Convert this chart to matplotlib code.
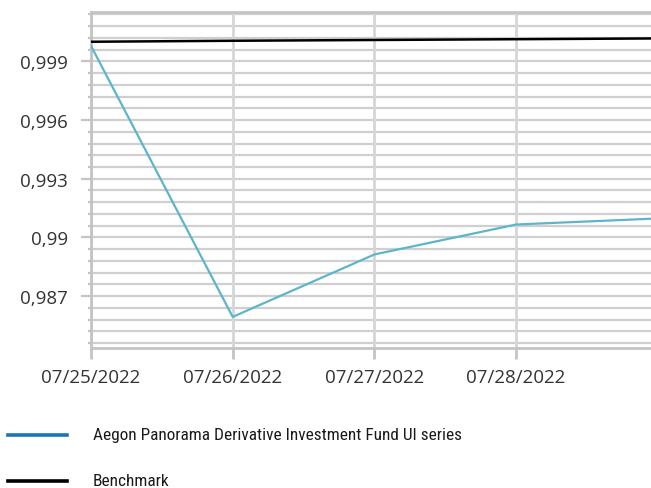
import matplotlib
matplotlib.use("Agg")
import matplotlib.pyplot as plt
from matplotlib.lines import Line2D
from matplotlib.ticker import FixedLocator, FuncFormatter

dates = ["07/25/2022", "07/26/2022", "07/27/2022", "07/28/2022", "07/29/2022"]
fund = [0.99979, 0.98594, 0.98913, 0.99066, 0.99097]
benchmark = [1.00000, 1.00005, 1.00009, 1.00013, 1.00017]
fund_label = "Aegon Panorama Derivative Investment Fund UI series"
bench_label = "Benchmark"

major_y = [0.987, 0.990, 0.993, 0.996, 0.999]
grid_y = [0.9846 + 0.0006 * k for k in range(30)]

W, H = 651, 489
fig = plt.figure(figsize=(W / 100, H / 100), dpi=100)
ax = fig.add_axes([91 / W, 1 - 349 / H, (W - 91) / W, (349 - 13) / H])

x = list(range(len(dates)))
ax.plot(x, benchmark, color="black", lw=1.8, zorder=4)
ax.plot(x, fund, color="#5db5cb", lw=1.6, zorder=4)

# grid
for g in grid_y:
    ax.axhline(g, color="#cfcfcf", lw=1.6, zorder=1)
for xi in x:
    ax.axvline(xi, color="#d6d6d6", lw=2.0, zorder=1)

# only the first four dates fit inside the visible area
ax.set_xticks(x[:4])
ax.set_xticklabels(dates[:4])
ax.yaxis.set_major_locator(FixedLocator(major_y))
ax.yaxis.set_minor_locator(FixedLocator(grid_y))
ax.yaxis.set_major_formatter(
    FuncFormatter(lambda v, p: ("%.3f" % v).rstrip("0").replace(".", ",")))

ax.set_xlim(0, 3.952)
ax.set_ylim(0.98435, 1.00152)

ax.spines["right"].set_visible(False)
for s in ["left", "bottom", "top"]:
    ax.spines[s].set_color("#c4c4c4")
    ax.spines[s].set_linewidth(2.0)

tick_family = ["Open Sans", "DejaVu Sans"]
ax.tick_params(axis="y", which="major", length=7.5, width=1.6, color="#c4c4c4",
               pad=9, labelcolor="#333333")
ax.tick_params(axis="y", which="minor", length=2.5, width=1.6, color="#c4c4c4")
ax.tick_params(axis="x", length=8, width=2.0, color="#c4c4c4", pad=6.5,
               labelcolor="#333333")
for lab in ax.get_xticklabels() + ax.get_yticklabels():
    lab.set_fontfamily(tick_family)
    lab.set_fontsize(13.5)

# legend below the chart
leg_family = ["Roboto Condensed", "Roboto", "DejaVu Sans"]
for yy, col, lab in [(436, "#1a74b9", fund_label), (482, "black", bench_label)]:
    fig.add_artist(Line2D([8 / W, 67 / W], [1 - yy / H, 1 - yy / H],
                          color=col, lw=2.6, transform=fig.transFigure))
    fig.text(93 / W, 1 - yy / H, lab, ha="left", va="center",
             fontsize=12.4, family=leg_family, color="#1a1a1a")

fig.savefig("out.png", dpi=100)
